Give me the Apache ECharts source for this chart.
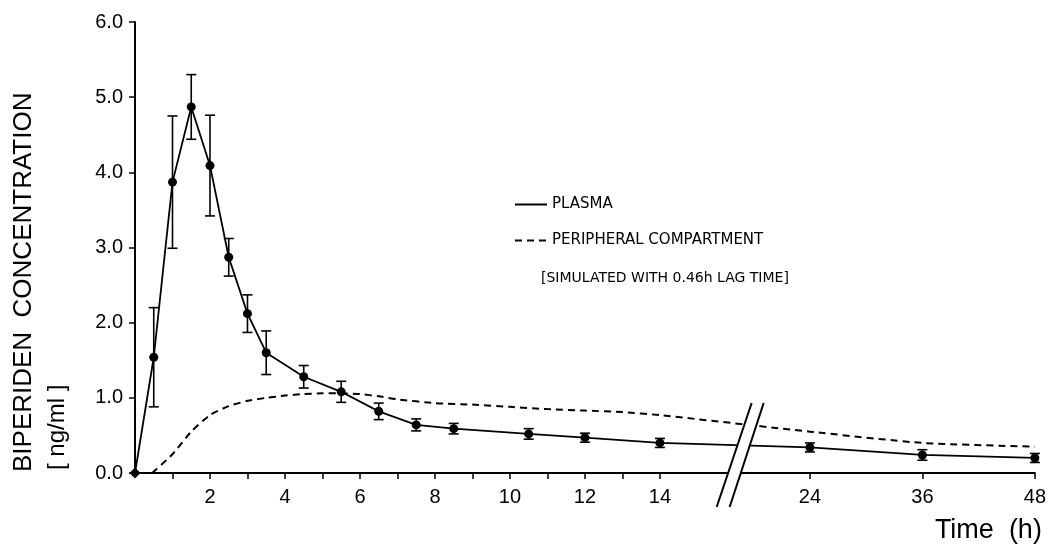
<!DOCTYPE html>
<html>
<head>
<meta charset="utf-8">
<script src="https://cdn.jsdelivr.net/npm/echarts@6/dist/echarts.min.js"></script>
<style>
  html, body { margin: 0; padding: 0; background: #fff; }
  #chart { width: 1049px; height: 548px; }
</style>
</head>
<body>
<div id="chart"></div>
<script>
// time points (h) and plasma concentration (ng/ml), mean +/- sd
const hours = [0, 0.5, 1, 1.5, 2, 2.5, 3, 3.5, 4.5, 5.5, 6.5, 7.5, 8.5, 10.5, 12, 14, 24, 36, 48]
const plasma = [0, 1.54, 3.87, 4.87, 4.09, 2.87, 2.12, 1.60, 1.28, 1.08, 0.82, 0.64, 0.59, 0.52, 0.47, 0.40, 0.34, 0.24, 0.20]
const plasmaSd = [0, 0.66, 0.88, 0.43, 0.67, 0.25, 0.25, 0.29, 0.15, 0.14, 0.11, 0.08, 0.07, 0.07, 0.06, 0.06, 0.06, 0.07, 0.06]

// simulated peripheral compartment (0.46 h lag)
const periHours = [0.46, 1, 1.5, 2, 2.5, 3, 3.5, 4, 4.5, 5, 5.5, 6, 6.5, 7, 8, 9, 10, 11, 12, 13, 14, 24, 36, 48]
const periph = [0, 0.25, 0.55, 0.77, 0.89, 0.96, 1.00, 1.03, 1.05, 1.06, 1.06, 1.05, 1.02, 0.98, 0.93, 0.91, 0.88, 0.85, 0.83, 0.81, 0.77, 0.55, 0.40, 0.35]

// axis labels
const xTickHours = [2, 4, 6, 8, 10, 12, 14, 24, 36, 48]
const xMinorHours = [1, 2, 3, 4, 5, 6, 7, 8, 9, 10, 11, 12, 13, 14, 24, 36, 48]

// broken time axis: 0-14 h linear, after the break 12 h take 3 units
function toU(h) {
  return h <= 14 ? h : 18 + (h - 24) / 4
}
function fromU(u) {
  return u <= 14 ? u : 24 + (u - 18) * 4
}

const chart = echarts.init(document.getElementById('chart'))

const plasmaData = hours.map((h, i) => {
  const item = { value: [toU(h), plasma[i]] }
  if (i === 0) {
    item.symbol = 'diamond'
    item.symbolSize = 11
  }
  return item
})
const sdData = hours.map((h, i) => [toU(h), plasma[i] - plasmaSd[i], plasma[i] + plasmaSd[i]])
const periData = periHours.map((h, i) => [toU(h), periph[i]])

chart.setOption({
  animation: false,
  grid: { left: 135, right: 12, top: 22, bottom: 75 },
  legend: {
    orient: 'vertical',
    left: 509,
    top: 192,
    itemWidth: 32,
    itemHeight: 16,
    itemGap: 21,
    selectedMode: false,
    itemStyle: { opacity: 0 },
    textStyle: { fontFamily: 'DejaVu Sans', fontSize: 15, color: '#000' },
    data: ['PLASMA', 'PERIPHERAL COMPARTMENT']
  },
  xAxis: {
    type: 'value',
    min: 0,
    max: 24,
    name: 'Time  (h)',
    nameLocation: 'end',
    nameGap: 7,
    nameTextStyle: {
      fontFamily: 'Liberation Sans',
      fontSize: 27,
      color: '#000',
      align: 'right',
      verticalAlign: 'top',
      padding: [44, 0, 0, 0]
    },
    splitLine: { show: false },
    axisLine: { lineStyle: { color: '#000', width: 2 } },
    axisTick: {
      customValues: xMinorHours.map(toU),
      length: 6,
      lineStyle: { color: '#000', width: 1.5 }
    },
    axisLabel: {
      customValues: xTickHours.map(toU),
      formatter: (u) => String(Math.round(fromU(u))),
      margin: 14,
      fontFamily: 'Liberation Sans',
      fontSize: 20,
      color: '#000'
    }
  },
  yAxis: {
    type: 'value',
    min: 0,
    max: 6,
    interval: 1,
    splitLine: { show: false },
    axisLine: { show: true, lineStyle: { color: '#000', width: 2 } },
    axisTick: { show: true, length: 6, lineStyle: { color: '#000', width: 1.5 } },
    axisLabel: {
      formatter: (v) => v.toFixed(1),
      margin: 12,
      fontFamily: 'Liberation Sans',
      fontSize: 20,
      color: '#000'
    }
  },
  series: [
    {
      name: 'PLASMA',
      type: 'line',
      data: plasmaData,
      symbol: 'circle',
      symbolSize: 9,
      itemStyle: { color: '#000' },
      lineStyle: { color: '#000', width: 1.8 },
      z: 3
    },
    {
      name: 'PERIPHERAL COMPARTMENT',
      type: 'line',
      data: periData,
      smooth: 0.2,
      showSymbol: false,
      itemStyle: { color: '#000' },
      lineStyle: { color: '#000', width: 2, type: [7, 5] }
    },
    {
      name: 'sd',
      type: 'custom',
      data: sdData,
      z: 4,
      renderItem: function (params, api) {
        const x = api.value(0)
        const lo = api.coord([x, api.value(1)])
        const hi = api.coord([x, api.value(2)])
        if (Math.abs(hi[1] - lo[1]) < 1) return
        const w = 5
        const style = { stroke: '#000', lineWidth: 1.6 }
        return {
          type: 'group',
          children: [
            { type: 'line', shape: { x1: lo[0], y1: lo[1], x2: hi[0], y2: hi[1] }, style: style },
            { type: 'line', shape: { x1: lo[0] - w, y1: lo[1], x2: lo[0] + w, y2: lo[1] }, style: style },
            { type: 'line', shape: { x1: hi[0] - w, y1: hi[1], x2: hi[0] + w, y2: hi[1] }, style: style }
          ]
        }
      }
    }
  ]
})

// break mark on the time axis and the rest of the texts
const brk = chart.convertToPixel({ gridIndex: 0 }, [16.1, 0])
const bx = brk[0]
const by = brk[1]
chart.setOption({
  graphic: [
    {
      type: 'polygon',
      z: 100,
      shape: { points: [[bx + 13, by - 70], [bx + 25, by - 70], [bx - 9, by + 34], [bx - 22, by + 34]] },
      style: { fill: '#fff' }
    },
    {
      type: 'line',
      z: 101,
      shape: { x1: bx + 13, y1: by - 70, x2: bx - 22, y2: by + 34 },
      style: { stroke: '#000', lineWidth: 2 }
    },
    {
      type: 'line',
      z: 101,
      shape: { x1: bx + 25, y1: by - 70, x2: bx - 9, y2: by + 34 },
      style: { stroke: '#000', lineWidth: 2 }
    },
    {
      type: 'text',
      left: 541,
      top: 271,
      style: {
        text: '[SIMULATED WITH 0.46h LAG TIME]',
        fontFamily: 'DejaVu Sans',
        fontSize: 14,
        fill: '#000'
      }
    },
    {
      type: 'text',
      x: 24,
      y: 472,
      rotation: Math.PI / 2,
      style: {
        text: 'BIPERIDEN  CONCENTRATION',
        fontFamily: 'Liberation Sans',
        fontSize: 26,
        fill: '#000',
        align: 'left',
        verticalAlign: 'middle'
      }
    },
    {
      type: 'text',
      x: 57,
      y: 470,
      rotation: Math.PI / 2,
      style: {
        text: '[ ng/ml ]',
        fontFamily: 'Liberation Sans',
        fontSize: 24,
        fill: '#000',
        align: 'left',
        verticalAlign: 'middle'
      }
    }
  ]
})
</script>
</body>
</html>
